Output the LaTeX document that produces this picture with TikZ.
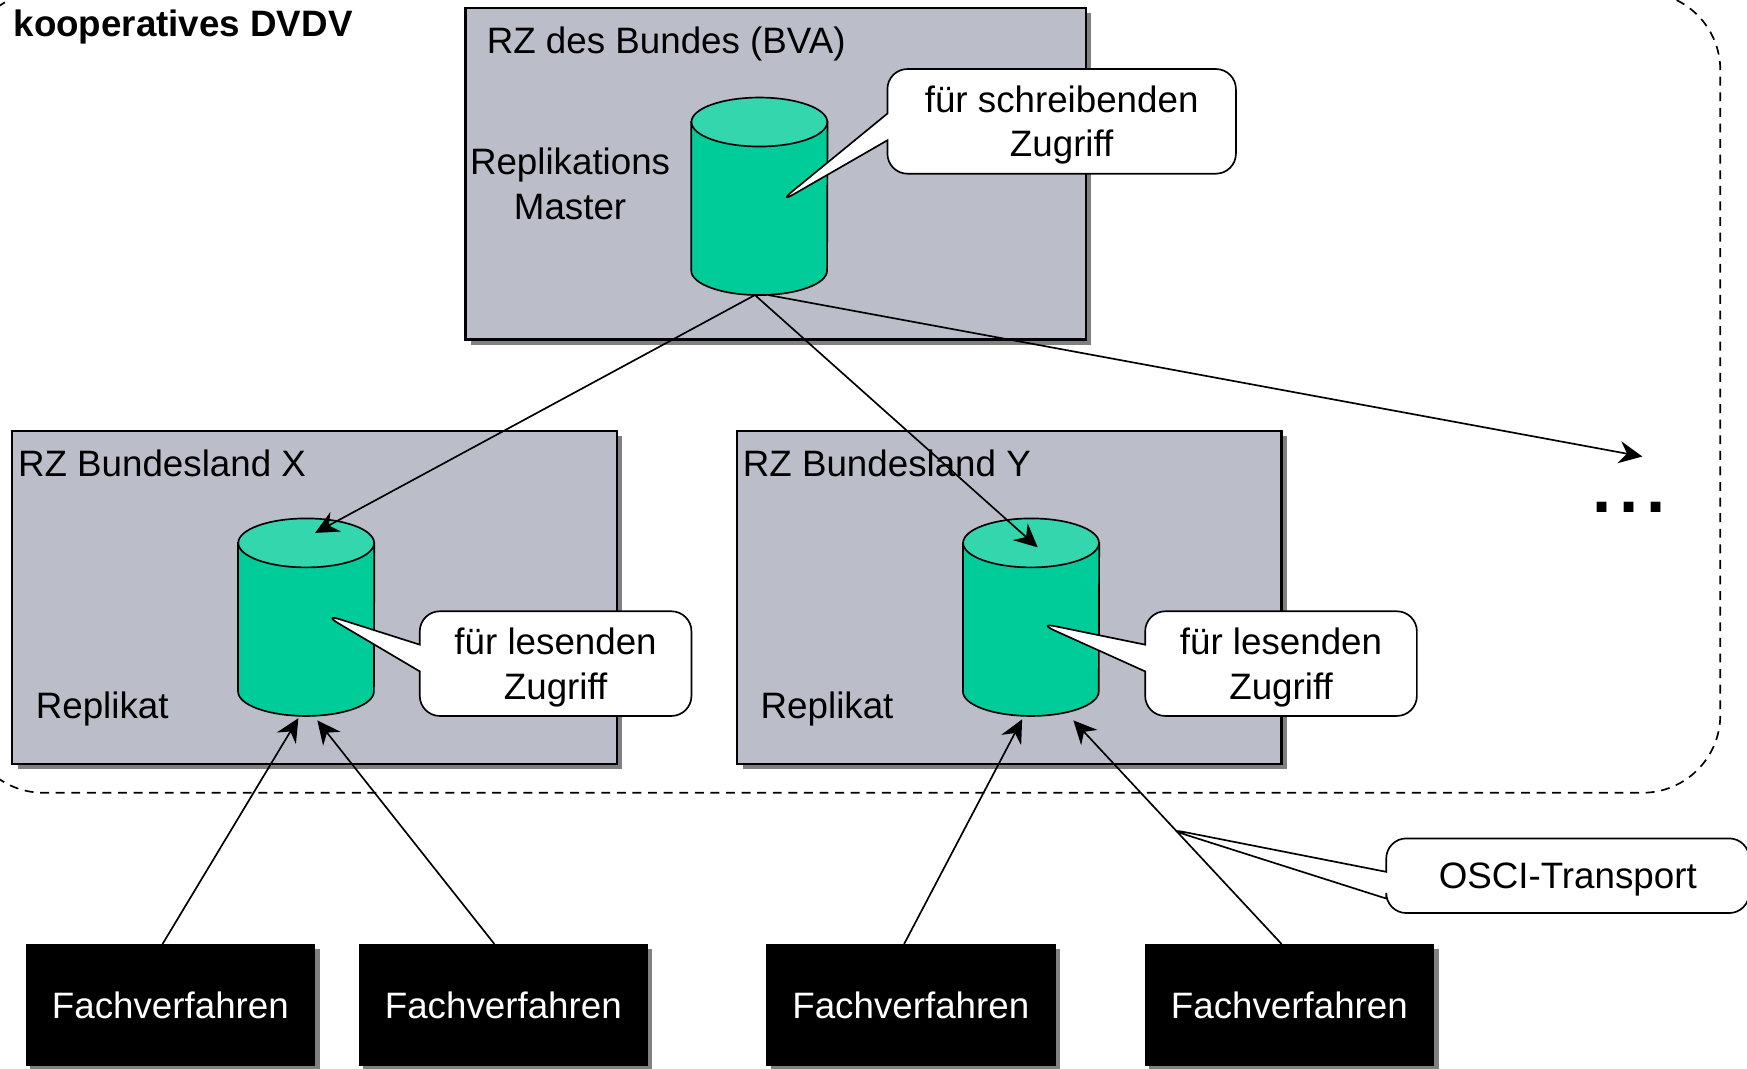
\documentclass[tikz,border=0pt]{standalone}
\usepackage{fontspec}
\setmainfont{Liberation Sans}
\usetikzlibrary{shapes.callouts,shadows,arrows.meta}
\definecolor{rzgray}{HTML}{BBBEC8}
\definecolor{dbbody}{HTML}{00CC99}
\definecolor{dbtop}{HTML}{33D6AD}
\begin{document}
\begin{tikzpicture}[x=1pt, y=-1pt,
        every node/.style={font=\fontsize{33}{40}\selectfont, inner sep=0pt},
        rz/.style={rectangle, draw, line width=2pt, fill=rzgray,
            drop shadow={shadow xshift=5pt, shadow yshift=-5pt, fill=black!50, opacity=1}},
        db/.style={rectangle, minimum width=122pt, minimum height=177pt},
        dbline/.style={draw, line width=1.5pt},
        fv/.style={rectangle, fill=black, text=white, minimum width=260pt, minimum height=109pt,
            drop shadow={shadow xshift=4pt, shadow yshift=-4pt, fill=black!50, opacity=1}},
        note/.style={rectangle callout, draw, line width=1.5pt, fill=white, rounded corners=18pt,
            callout pointer width=24pt, align=center, text depth=-7pt},
        arrow/.style={-{Stealth[length=21pt, width=20pt, inset=7pt]}, line width=1.5pt}
    ]
        \useasboundingbox (0,0) rectangle (1569,960);
        \draw[dash pattern=on 8pt off 6pt, line width=1.5pt, rounded corners=70pt] (-31,-7) rectangle (1545,712);
        \node[anchor=base west, font=\fontsize{33}{40}\selectfont\bfseries] (title) at (12,33) {kooperatives DVDV};

        % Rechenzentren
        \node[rz, minimum width=557pt, minimum height=298pt] (bva) at (696.5,156) {};
        \node[rz, minimum width=543pt, minimum height=299pt] (rzx) at (282.5,536.5) {};
        \node[rz, minimum width=489pt, minimum height=299pt] (rzy) at (906.5,536.5) {};
        \node[anchor=base west] (bvalabel) at (437,48) {RZ des Bundes (BVA)};
        \node[align=center] (masterlabel) at (512,165) {Replikations\\Master};
        \node[anchor=base west] (rzxlabel) at (16,428) {RZ Bundesland X};
        \node[anchor=base west] (rzylabel) at (667,428) {RZ Bundesland Y};
        \node[anchor=base west] (replx) at (32,645) {Replikat};
        \node[anchor=base west] (reply) at (683,645) {Replikat};

        % Datenbanken
        \node[db, anchor=south] (master) at (682,265) {};
        \node[db, anchor=south] (dbx) at (275,643) {};
        \node[db, anchor=south] (dby) at (926,643) {};
        \foreach \db in {master,dbx,dby} {
            \draw[dbline, fill=dbbody] ([yshift=-22pt]\db.north west) -- ([yshift=22pt]\db.south west)
                arc[start angle=180, end angle=0, x radius=61, y radius=22]
                -- ([yshift=-22pt]\db.north east) -- cycle;
            \draw[dbline, fill=dbtop] ([yshift=-22pt]\db.north) ellipse[x radius=61, y radius=22];
        }

        \node[note, minimum width=313pt, minimum height=94pt, callout absolute pointer={(698,183)}] (writenote) at (953.5,109) {für schreibenden\\Zugriff};
        \node[note, minimum width=244pt, minimum height=94pt, callout absolute pointer={(289,551)}] (readx) at (499,596) {für lesenden\\Zugriff};
        \node[note, minimum width=244pt, minimum height=94pt, callout absolute pointer={(931,559)}] (ready) at (1150.5,596) {für lesenden\\Zugriff};

        % Fachverfahren
        \node[fv] (fv1) at (153,902.5) {Fachverfahren};
        \node[fv] (fv2) at (452,902.5) {Fachverfahren};
        \node[fv] (fv3) at (818,902.5) {Fachverfahren};
        \node[fv] (fv4) at (1158,902.5) {Fachverfahren};

        \coordinate (more) at (1475,410);
        \node[anchor=base, font=\fontsize{62}{62}\selectfont\bfseries] (dots) at (1463,460) {.\kern7pt.\kern7pt.};

        \draw[arrow] ([xshift=-4pt]master.south) -- ([xshift=8pt, yshift=-13pt]dbx.north);
        \draw[arrow] ([xshift=-4pt]master.south) -- ([xshift=6pt, yshift=-26pt]dby.north);
        \draw[arrow] ([xshift=8pt]master.south) -- (more);
        \draw[arrow] ([xshift=-7pt]fv1.north) -- ([xshift=-7pt, yshift=-2pt]dbx.south);
        \draw[arrow] ([xshift=-8pt]fv2.north) -- ([xshift=10pt, yshift=-4pt]dbx.south);
        \draw[arrow] ([xshift=-6pt]fv3.north) -- ([xshift=-8pt, yshift=-3pt]dby.south);
        \draw[arrow] ([xshift=-7pt]fv4.north) -- ([xshift=38pt, yshift=-4pt]dby.south);

        \node[note, minimum width=326pt, minimum height=67pt, callout absolute pointer={(1047,744)}] (osci) at (1408,786.5) {OSCI-Transport};
    \end{tikzpicture}
\end{document}
